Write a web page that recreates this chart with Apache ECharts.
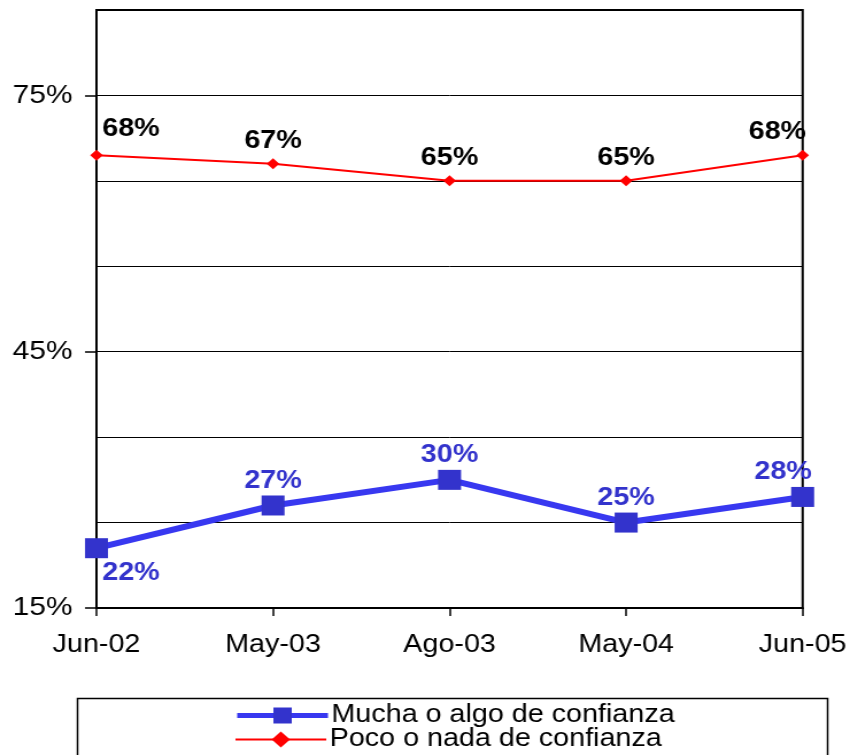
<!DOCTYPE html>
<html>
<head>
<meta charset="utf-8">
<style>
  html, body { margin:0; padding:0; background:#fff; overflow:hidden; }
  /* original picture is stretched horizontally, so draw narrower and stretch */
  #chart { width:740px; height:755px; transform:scaleX(1.148649); transform-origin:0 0; }
</style>
<script src="https://cdn.jsdelivr.net/npm/echarts@6/dist/echarts.min.js"></script>
</head>
<body>
<div id="chart"></div>
<script>
const categories = ["Jun-02", "May-03", "Ago-03", "May-04", "Jun-05"];
const mucha = [22, 27, 30, 25, 28];
const poco  = [68, 67, 65, 65, 68];
const yTicks = [15, 45, 75];
const names = ["Mucha o algo de confianza", "Poco o nada de confianza"];

const FONT = "'Liberation Sans', Arial, sans-serif";
const BLUE = "#3333CC", BLUE_LINE = "#3838F0", RED = "#FF0000";

const chart = echarts.init(document.getElementById("chart"));

// per-point label tweaks (first/last points are nudged inward like the original)
const pocoData = poco.map((v,i)=>{
  const off = i===0 ? [30,-3] : (i===poco.length-1 ? [-22,0] : [0,0]);
  return { value:v, label:{ offset:off } };
});
const muchaData = mucha.map((v,i)=>{
  if(i===0) return { value:v, label:{ position:"bottom", offset:[30,0] } };
  if(i===mucha.length-1) return { value:v, label:{ offset:[-17,0] } };
  return { value:v };
});

const legendBase = {
  orient:"horizontal", left:204,
  itemWidth:79, itemHeight:20, padding:0,
  textStyle:{ color:"#000", fontFamily:FONT, fontSize:25, padding:[0,0,0,-2] }
};

chart.setOption({
  backgroundColor:"#fff",
  animation:false,
  grid:{ left:84, right:41, top:10, bottom:147, show:true, borderColor:"#000", borderWidth:2, backgroundColor:"transparent" },
  xAxis:{
    type:"category", data:categories, boundaryGap:false,
    axisLine:{ lineStyle:{ color:"#000", width:2 } },
    axisTick:{ show:true, alignWithLabel:true, length:8, lineStyle:{ color:"#000", width:1.5 } },
    axisLabel:{ color:"#000", fontFamily:FONT, fontSize:25, margin:25 },
    splitLine:{ show:false }
  },
  yAxis:[
    { // gridlines every 10%
      type:"value", min:15, max:85, interval:10,
      axisLine:{ show:true, lineStyle:{ color:"#000", width:2 } },
      axisTick:{ show:false }, axisLabel:{ show:false },
      splitLine:{ show:true, lineStyle:{ color:"#000", width:1 } }
    },
    { // labels + ticks at 15/45/75
      type:"value", min:15, max:85, position:"left", offset:0,
      axisLine:{ show:false },
      axisTick:{ show:true, customValues:yTicks, length:10, lineStyle:{ color:"#000", width:1.5 } },
      axisLabel:{ customValues:yTicks, color:"#000", fontFamily:FONT, fontSize:26, margin:21,
        formatter:(v)=>v+"%" },
      splitLine:{ show:false }
    }
  ],
  legend:[
    Object.assign({}, legendBase, { top:703, data:[{ name:names[0], lineStyle:{ width:5, color:BLUE_LINE } }] }),
    Object.assign({}, legendBase, { top:727, data:[{ name:names[1], lineStyle:{ width:2 } }] })
  ],
  graphic:[{
    type:"rect", left:65, top:696,
    shape:{ width:653, height:80 },
    style:{ fill:"none", stroke:"#000", lineWidth:1.5 },
    z:-1
  }],
  series:[
    {
      name:names[0], type:"line", data:muchaData,
      symbol:"rect", symbolSize:[20,20],
      itemStyle:{ color:BLUE },
      lineStyle:{ color:BLUE_LINE, width:6 },
      label:{ show:true, position:"top", distance:2, formatter:"{c}%",
        color:BLUE, fontFamily:FONT, fontWeight:"bold", fontSize:25 },
      z:3
    },
    {
      name:names[1], type:"line", data:pocoData,
      symbol:"diamond", symbolSize:[11,11],
      itemStyle:{ color:RED },
      lineStyle:{ color:RED, width:2 },
      label:{ show:true, position:"top", distance:5, formatter:"{c}%",
        color:"#000", fontFamily:FONT, fontWeight:"bold", fontSize:25 },
      z:2
    }
  ]
});
</script>
</body>
</html>
